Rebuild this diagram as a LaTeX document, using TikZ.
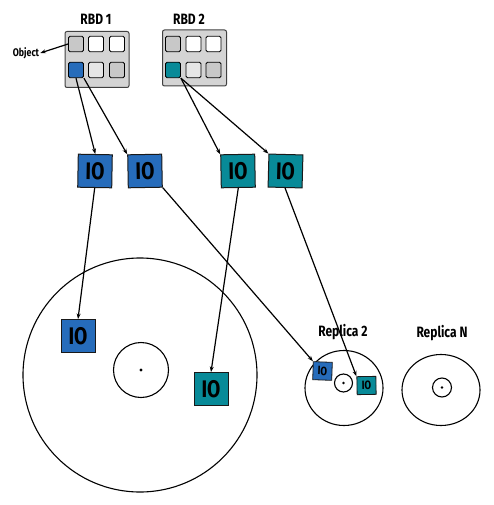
\documentclass[tikz,border=0pt]{standalone}
\usepackage{fontspec}
\newfontfamily\hand[FakeStretch=0.8]{Fira Sans}
\usetikzlibrary{arrows.meta,shapes.geometric}
\definecolor{ioblue}{RGB}{38,108,187}
\definecolor{ioteal}{RGB}{8,138,152}
\definecolor{boxgray}{RGB}{212,212,212}
\definecolor{cellgray}{RGB}{200,200,200}
\definecolor{celllight}{RGB}{230,230,230}
\begin{document}
\begin{tikzpicture}[x=1pt,y=-1pt,
  lbl/.style={font=\hand\bfseries\fontsize{15}{15}\selectfont, inner sep=0pt},
  rbdbox/.style={draw=black!75, fill=boxgray, rounded corners=2pt, minimum width=64pt, minimum height=56pt, line width=1pt},
  cell/.style={draw=black, rounded corners=1.5pt, minimum width=15pt, minimum height=15.5pt, inner sep=0pt, line width=0.9pt},
  iobox/.style={draw=black!90, line width=1pt, minimum width=34pt, minimum height=33pt, inner sep=0pt, font=\hand\bfseries\fontsize{24}{24}\selectfont},
  smallio/.style={draw=black!90, line width=0.8pt, minimum width=19pt, minimum height=18pt, inner sep=0pt, font=\hand\bfseries\fontsize{12}{12}\selectfont},
  disk/.style={draw=black, line width=1.1pt},
  arr/.style={draw=black, line width=1.2pt, -{Stealth[length=5.5pt,width=4pt]}}
]
\useasboundingbox (0,0) rectangle (493,505);

% RBD 1
\node[lbl] (t1) at (96,19) {RBD 1};
\node[rbdbox] (rbd1) at (97,59.5) {};
\node[cell, fill=cellgray] (a11) at (76,44) {};
\node[cell, fill=white] (a12) at (96,44) {};
\node[cell, fill=white] (a13) at (117,44) {};
\node[cell, fill=ioblue] (a21) at (76,70) {};
\node[cell, fill=celllight] (a22) at (96,70) {};
\node[cell, fill=cellgray] (a23) at (117,70) {};

% RBD 2
\node[lbl] (t2) at (189,19) {RBD 2};
\node[rbdbox] (rbd2) at (194.5,58) {};
\node[cell, fill=cellgray] (b11) at (173,44) {};
\node[cell, fill=white] (b12) at (193.5,44) {};
\node[cell, fill=white] (b13) at (213.5,44) {};
\node[cell, fill=ioteal] (b21) at (173,70) {};
\node[cell, fill=celllight] (b22) at (193.5,70) {};
\node[cell, fill=cellgray] (b23) at (213.5,70) {};

% Object label
\node[font=\hand\bfseries\fontsize{11}{11}\selectfont, inner sep=1pt] (obj) at (26,53) {Object};
\draw[arr] (a11.west) -- (obj.east);

% IO row
\node[iobox, fill=ioblue, rotate=-1] (io1) at (95,171) {IO};
\node[iobox, fill=ioblue, rotate=1] (io2) at (145,171) {IO};
\node[iobox, fill=ioteal, rotate=1] (io3) at (238,171) {IO};
\node[iobox, fill=ioteal, rotate=-1.5] (io4) at (285.5,171) {IO};

\draw[arr] (a21.south) -- (io1.north);
\draw[arr] (a21.south east) -- (io2.north west);
\draw[arr] (b21.south east) -- (io3.north west);
\draw[arr] (b21.south east) -- (io4.north west);

% Big disk
\node[disk, circle, minimum size=234pt, inner sep=0pt] (d1) at (140,375) {};
\node[disk, circle, minimum size=55pt, inner sep=0pt] (d1c) at (141,370) {};
\fill (d1c.center) circle (1.6pt);
\node[iobox, fill=ioblue] (d1a) at (78,336) {IO};
\node[iobox, fill=ioteal] (d1b) at (211,389) {IO};

% Replica 2
\node[lbl] (r2l) at (343,332) {Replica 2};
\node[disk, ellipse, minimum width=78pt, minimum height=75pt, inner sep=0pt] (d2) at (344,388) {};
\node[disk, circle, minimum size=18pt, inner sep=0pt] (d2c) at (343.5,383) {};
\fill (d2c.center) circle (1.3pt);
\node[smallio, fill=ioblue, rotate=-2] (d2a) at (322.5,371) {IO};
\node[smallio, fill=ioteal, rotate=1] (d2b) at (366.5,385.5) {IO};

% Replica N
\node[lbl] (rnl) at (442,333) {Replica N};
\node[disk, ellipse, minimum width=78pt, minimum height=71pt, inner sep=0pt] (dn) at (441,390) {};
\node[disk, circle, minimum size=19pt, inner sep=0pt] (dnc) at (442,387.5) {};
\fill (dnc.center) circle (1.3pt);

% IO to replicas
\draw[arr] (io1.south) -- (d1a.north);
\draw[arr] (io3.south) -- (d1b.north);
\draw[arr] (io2.south east) -- (d2a.north west);
\draw[arr] (io4.south) -- (d2b.north west);
\end{tikzpicture}
\end{document}
